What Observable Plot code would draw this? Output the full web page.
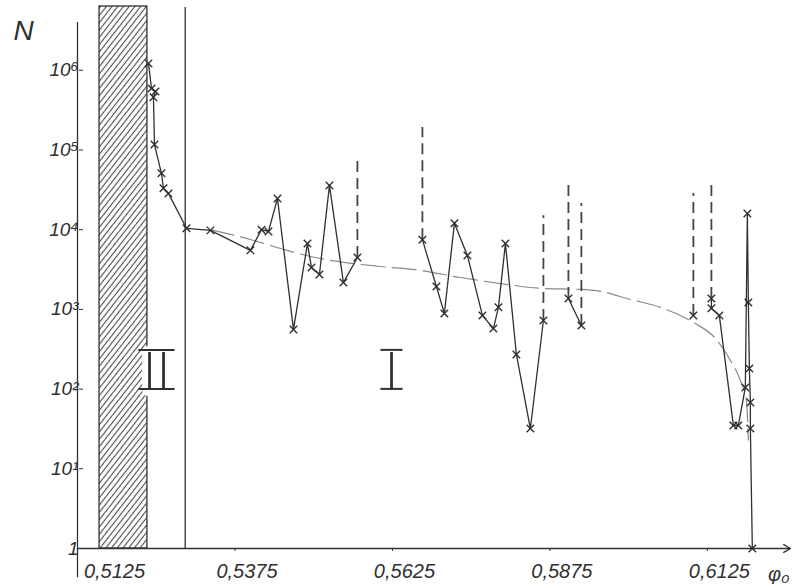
<!DOCTYPE html>
<html><head><meta charset="utf-8">
<script src="https://cdn.jsdelivr.net/npm/d3@7"></script>
<script src="https://cdn.jsdelivr.net/npm/@observablehq/plot@0.6"></script>
<style>
body{margin:0;background:#fff;}
#chart svg{font-family:"Liberation Sans Narrow","Liberation Sans",sans-serif;}
</style></head><body><div id="chart"></div>
<script>
// measured points (phi0, N) and the connected segment they belong to
const pointPhi = [0.52377,0.52425,0.52488,0.52456,0.52472,0.52583,0.52615,0.52694,0.52980,0.53361,0.53996,0.54171,0.54282,0.54425,0.54679,0.54901,0.54964,0.55091,0.5525,0.55472,0.55694,
  0.56726,0.56948,0.57075,0.57234,0.5744,0.57679,0.57853,0.57933,0.58044,0.58218,0.5844,0.58647,
  0.59044,0.5925,
  0.61028,
  0.61314,0.61314,0.6144,0.61663,0.61742,0.61853,0.61885,0.61901,0.61917,0.61933,0.61933,0.61964];
const pointN = [1.22e6,5.9e5,5.4e5,4.6e5,1.17e5,5.1e4,3.3e4,2.85e4,1.04e4,9.8e3,5.5e3,1.0e4,9.5e3,2.46e4,560,6.7e3,3.36e3,2.74e3,3.59e4,2.17e3,4.48e3,
  7.5e3,1.94e3,890,1.2e4,4.75e3,840,575,1.06e3,6.7e3,272,32,726,
  1.37e3,628,
  840,
  1.37e3,1.03e3,840,35,35,105,1.6e4,1.22e3,181,68,32,1];
const pointSeg = [..."AAAAAAAAAAAAAAAAAAAAA","BBBBBBBBBBBB","CC","D","EEEEEEEEEEEE"].join("").split("");

// dashed verticals (lower bound continuing upward)
const dashPhi = [0.55694,0.56726,0.58647,0.59044,0.5925,0.61028,0.61314];
const dashFrom = [4.48e3,7.5e3,726,1.37e3,628,840,1.37e3];
const dashTo = [8.5e4,1.92e5,1.5e4,3.59e4,2.13e4,2.85e4,3.8e4];

// dashed trend curve
const trendPhi = [0.53361,0.53996,0.54472,0.54949,0.55504,0.5606,0.56694,0.57329,0.57964,0.58647,0.59234,0.59552,0.60028,0.60504,0.61028,0.61377,0.61615,0.61774,0.6187,0.61901];
const trendN = [1.0e4,7530,5810,4610,3870,3450,3080,2510,2110,1830,1780,1680,1330,1060,685,432,229,128,72,23];

// regions
const bandPhi = [0.516, 0.5236];
const boundaryPhi = 0.5296;
const regionText = ["II","I"];
const regionPhi = [0.52504, 0.56234];
const regionN = [161, 161];

// ticks
const xTicks = [0.5125,0.5375,0.5625,0.5875,0.6125];
const xTickLabels = ["0,5125","0,5375","0,5625","0,5875","0,6125"];
const yTicks = [1,10,100,1e3,1e4,1e5,1e6];
const yTickLabels = ["1","10¹","10²","10³","10⁴","10⁵","10⁶"];
const xMax = 0.6257, yTop = Math.pow(10, 6.8), yAxisTop = Math.pow(10, 6.6), yAxisBottom = 0.43;

const points = pointPhi.map((p,i)=>({phi:p, N:pointN[i], seg:pointSeg[i]}));
const dashes = dashPhi.map((p,i)=>({phi:p, from:dashFrom[i], to:dashTo[i]}));
const trend = trendPhi.map((p,i)=>({phi:p, N:trendN[i]}));
const regions = regionText.map((t,i)=>({t, phi:regionPhi[i], N:regionN[i]}));
const xLabels = xTicks.map((v,i)=>({v, t:xTickLabels[i]}));

const ink = "#303030";
const plot = Plot.plot({
  width: 796, height: 584,
  marginLeft: 77, marginRight: 6, marginTop: 6, marginBottom: 36,
  x: {domain: [xTicks[0], xMax], label: null},
  y: {type: "log", domain: [1, yTop], label: null},
  style: {background: "#fff", color: ink},
  marks: [
    Plot.rect([{a:bandPhi[0], b:bandPhi[1]}], {x1:"a", x2:"b", y1: () => 1, y2: () => yTop, fill: "url(#hatch)", stroke: ink, strokeWidth: 1.3}),
    Plot.ruleX([boundaryPhi], {y1: 1, y2: yTop * 0.97, stroke: ink, strokeWidth: 1.3}),
    Plot.ruleX([xTicks[0]], {y1: yAxisBottom, y2: yAxisTop, stroke: ink, strokeWidth: 1.3}),
    Plot.arrow([{a: xTicks[0], b: xMax}], {x1: "a", x2: "b", y1: () => 1, y2: () => 1, stroke: ink, strokeWidth: 1.3, headLength: 9}),
    Plot.line(trend, {x: "phi", y: "N", curve: "monotone-x", stroke: "#8a8a8a", strokeWidth: 1.2, strokeDasharray: "24,7"}),
    Plot.ruleX(dashes, {x: "phi", y1: "from", y2: "to", stroke: "#444", strokeWidth: 1.8, strokeDasharray: "11,6"}),
    Plot.line(points, {x: "phi", y: "N", z: "seg", stroke: ink, strokeWidth: 1.3}),
    Plot.dot(points, {x: "phi", y: "N", symbol: "times", r: 3.5, stroke: ink, strokeWidth: 1.4}),
    Plot.text(regions, {x: "phi", y: "N", text: "t", fontSize: 54, fontFamily: "Lato", fontWeight: 300, fill: ink, stroke: "white", strokeWidth: 12, paintOrder: "stroke"}),
    Plot.axisY({ticks: yTicks, tickFormat: d => yTickLabels[yTicks.indexOf(d)], tickSize: 4, tickPadding: 1, dx: 6, fontSize: 19, fontStyle: "italic", label: null}),
    Plot.axisX({ticks: xTicks, tickFormat: () => "", tickSize: 3, label: null}),
    Plot.text(xLabels.slice(0,1), {x: "v", y: () => 1, text: "t", lineAnchor: "top", dy: 15, dx: 37, fontSize: 20, fontStyle: "italic", fill: ink}),
    Plot.text(xLabels.slice(1), {x: "v", y: () => 1, text: "t", lineAnchor: "top", dy: 15, dx: 12, fontSize: 20, fontStyle: "italic", fill: ink}),
    Plot.text(["N"], {frameAnchor: "top-left", dx: -64, dy: 14, fontSize: 28, fontStyle: "italic", fill: ink}),
    Plot.text(["φ₀"], {frameAnchor: "bottom-right", dx: -1, dy: 32, fontSize: 20, fontStyle: "italic", fill: ink})
  ]
});
const svg = d3.select(plot);
const defs = svg.insert("defs", ":first-child");
const pat = defs.append("pattern").attr("id","hatch").attr("patternUnits","userSpaceOnUse")
  .attr("width",4.5).attr("height",4.5).attr("patternTransform","rotate(38)");
pat.append("rect").attr("width",4.5).attr("height",4.5).attr("fill","#fff");
pat.append("line").attr("x1",2.25).attr("y1",0).attr("x2",2.25).attr("y2",4.5).attr("stroke","#4a4a4a").attr("stroke-width",1.1);
document.getElementById("chart").appendChild(plot);
// roman-numeral bars derived from the rendered label boxes (same transform as the label)
svg.selectAll("text").filter(function() { return regionText.includes(this.textContent) && this.closest("g") && this.closest("g").getAttribute("font-size") == "54"; })
  .each(function() {
    const b = this.getBBox();
    const cy = b.y + b.height / 2, half = 19.5;
    const g = d3.select(this.parentNode).append("g").attr("transform", this.getAttribute("transform"));
    [cy - half, cy + half].forEach(yy => {
      g.append("line").attr("x1", b.x - 4).attr("x2", b.x + b.width + 4).attr("y1", yy).attr("y2", yy)
        .attr("stroke", ink).attr("stroke-width", 2).attr("fill", "none");
    });
  });
</script></body></html>
